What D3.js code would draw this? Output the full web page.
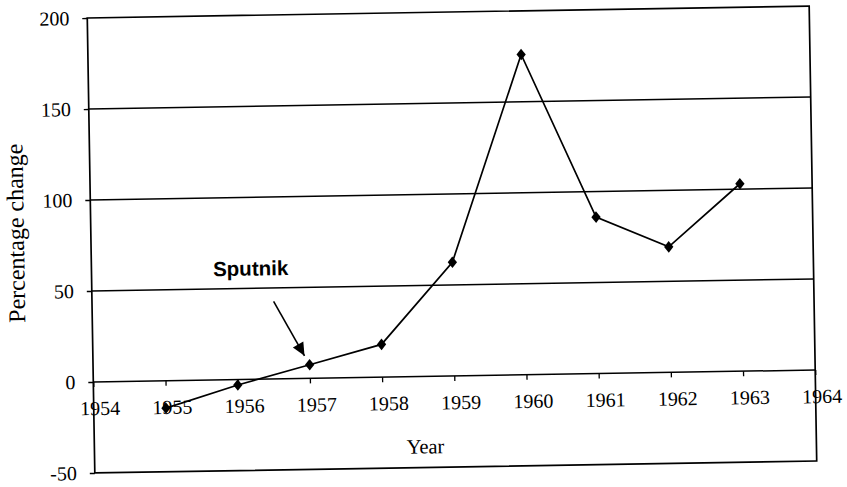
<!DOCTYPE html>
<html>
<head>
<meta charset="utf-8">
<script src="https://cdn.jsdelivr.net/npm/d3@7/dist/d3.min.js"></script>
<style>
  html, body { margin: 0; padding: 0; background: #fff; }
  svg { display: block; }
</style>
</head>
<body>
<svg id="chart" width="847" height="487"></svg>
<script>
// ---- data ----
const years = [1955, 1956, 1957, 1958, 1959, 1960, 1961, 1962, 1963];
const pctChange = [-15, -3, 7.5, 18, 62.5, 176, 86, 69, 103];
const xTicks = [1954, 1955, 1956, 1957, 1958, 1959, 1960, 1961, 1962, 1963, 1964];
const yTicks = [-50, 0, 50, 100, 150, 200];
const gridValues = [0, 50, 100, 150];
const annotationYear = 1957;
const annotationText = "Sputnik";

(function () {
// ---- layout ----
const W = 847, H = 487;
const pLeft = 91, pRight = 813, pTop = 12, pBottom = 467;

const svg = d3.select("#chart");
svg.append("rect").attr("width", W).attr("height", H).attr("fill", "#fff");

// the reference is a slightly tilted scan
const g = svg.append("g").attr("transform", "rotate(-0.95, 452, 240)");

const x = d3.scaleLinear().domain([1954, 1964]).range([pLeft, pRight]);
const y = d3.scaleLinear().domain([-50, 200]).range([pBottom, pTop]);

const serif = "'Liberation Serif', 'Times New Roman', serif";

// gridlines
g.selectAll("line.grid").data(gridValues).join("line")
  .attr("class", "grid")
  .attr("x1", pLeft).attr("x2", pRight)
  .attr("y1", d => y(d)).attr("y2", d => y(d))
  .attr("stroke", "#000").attr("stroke-width", 1.5);

// plot border
g.append("rect")
  .attr("x", pLeft).attr("y", pTop)
  .attr("width", pRight - pLeft).attr("height", pBottom - pTop)
  .attr("fill", "none").attr("stroke", "#000").attr("stroke-width", 1.7);

// y axis (left)
const yAxis = d3.axisLeft(y).tickValues(yTicks).tickSize(5).tickPadding(13)
  .tickFormat(d => String(d));
const yg = g.append("g").attr("transform", `translate(${pLeft},0)`).call(yAxis);
yg.select(".domain").remove();
yg.selectAll(".tick line").attr("stroke", "#000").attr("stroke-width", 1.4);
yg.selectAll(".tick text")
  .attr("font-family", serif).attr("font-size", 20).attr("fill", "#000");

// x axis at zero
const xAxis = d3.axisBottom(x).tickValues(xTicks).tickSize(5).tickPadding(14)
  .tickFormat(d => String(d));
const xg = g.append("g").attr("transform", `translate(0,${y(0)})`).call(xAxis);
xg.select(".domain").remove();
xg.selectAll(".tick line").attr("stroke", "#000").attr("stroke-width", 1.3);
xg.selectAll(".tick text")
  .attr("font-family", serif).attr("font-size", 20).attr("fill", "#000")
  .attr("dx", 6);

// axis titles
g.append("text")
  .attr("x", 422).attr("y", 453)
  .attr("text-anchor", "middle")
  .attr("font-family", serif).attr("font-size", 20.5)
  .text("Year");

g.append("text")
  .attr("transform", "translate(24,226) rotate(-90)")
  .attr("text-anchor", "middle")
  .attr("font-family", serif).attr("font-size", 24)
  .text("Percentage change");

// data line
const pts = years.map((yr, i) => [yr, pctChange[i]]);
g.append("path")
  .datum(pts)
  .attr("fill", "none").attr("stroke", "#000").attr("stroke-width", 1.7)
  .attr("d", d3.line().x(d => x(d[0])).y(d => y(d[1])));

// diamond markers
const diamond = {
  draw(ctx, size) {
    const h = Math.sqrt(size) / 2, w = h * 0.8;
    ctx.moveTo(0, -h); ctx.lineTo(w, 0); ctx.lineTo(0, h); ctx.lineTo(-w, 0); ctx.closePath();
  }
};
g.selectAll("path.pt").data(pts).join("path")
  .attr("class", "pt")
  .attr("transform", d => `translate(${x(d[0])},${y(d[1])})`)
  .attr("d", d3.symbol().type(diamond).size(135))
  .attr("fill", "#000");

// Sputnik annotation
const ai = years.indexOf(annotationYear);
const ax = x(annotationYear), ay = y(pctChange[ai]);
const tip = [ax - 5, ay - 9], tail = [ax - 35, ay - 64];
g.append("line")
  .attr("x1", tail[0]).attr("y1", tail[1]).attr("x2", tip[0]).attr("y2", tip[1])
  .attr("stroke", "#000").attr("stroke-width", 1.6);
const ang = Math.atan2(tip[1] - tail[1], tip[0] - tail[0]);
const L = 13, Wd = 6;
const bx = tip[0] - L * Math.cos(ang), by = tip[1] - L * Math.sin(ang);
g.append("path")
  .attr("d", `M${tip[0]},${tip[1]} L${bx + Wd * Math.sin(ang)},${by - Wd * Math.cos(ang)} L${bx - Wd * Math.sin(ang)},${by + Wd * Math.cos(ang)} Z`)
  .attr("fill", "#000");
g.append("text")
  .attr("x", ax - 95).attr("y", ay - 90)
  .attr("font-family", "'Liberation Sans', Arial, sans-serif")
  .attr("font-weight", "bold").attr("font-size", 20.5)
  .text(annotationText);
})();
</script>
</body>
</html>
